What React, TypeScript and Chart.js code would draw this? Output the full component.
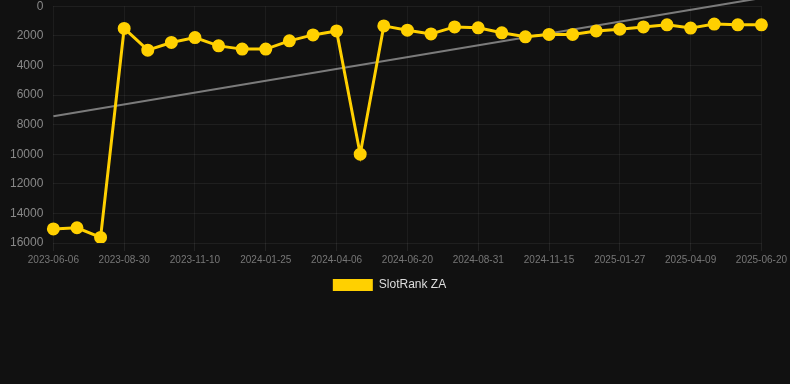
import React, { useEffect, useRef } from "react";
import { Chart, registerables } from "chart.js";

Chart.register(...registerables);

const labels: string[] = [
  "2023-06-06", "2023-07-04", "2023-08-02", "2023-08-30", "2023-09-23", "2023-10-17",
  "2023-11-10", "2023-12-05", "2023-12-30", "2024-01-25", "2024-02-18", "2024-03-13",
  "2024-04-06", "2024-05-01", "2024-05-26", "2024-06-20", "2024-07-14", "2024-08-07",
  "2024-08-31", "2024-09-25", "2024-10-20", "2024-11-15", "2024-12-09", "2025-01-03",
  "2025-01-27", "2025-02-20", "2025-03-16", "2025-04-09", "2025-05-03", "2025-05-27",
  "2025-06-20",
];

const rankZA: number[] = [
  15050, 14970, 15620, 1500, 2970, 2450, 2120, 2680, 2900, 2900, 2340, 1940,
  1670, 10000, 1330, 1620, 1870, 1400, 1460, 1800, 2070, 1910, 1910, 1670,
  1550, 1400, 1260, 1480, 1210, 1260, 1260,
];

const trendStart = 7430;
const trendEnd = -550;

const yTicksMin = 0;
const yTicksMax = 16000;
const yStep = 2000;

const legendShift = {
  id: "legendShift",
  afterLayout(c: any) {
    if (c.legend) {
      c.legend.left -= 5;
      c.legend.right -= 5;
    }
  },
};

export default function App() {
  const ref = useRef<HTMLCanvasElement | null>(null);

  useEffect(() => {
    if (!ref.current) return;
    const chart = new Chart(ref.current, {
      type: "line",
      data: {
        labels,
        datasets: [
          {
            label: "SlotRank ZA",
            data: rankZA,
            borderColor: "#ffd000",
            backgroundColor: "#ffd000",
            pointBackgroundColor: "#ffd000",
            pointBorderColor: "#ffd000",
            borderWidth: 3,
            pointRadius: 5,
            tension: 0,
          },
          {
            label: "trend",
            data: [
              { x: labels[0], y: trendStart },
              { x: labels[labels.length - 1], y: trendEnd },
            ] as any,
            borderColor: "rgba(150,150,150,0.8)",
            backgroundColor: "rgba(150,150,150,0.8)",
            borderWidth: 2,
            pointRadius: 0,
            tension: 0,
            clip: false as any,
          },
        ],
      },
      plugins: [legendShift],
      options: {
        animation: false,
        responsive: true,
        maintainAspectRatio: false,
        layout: { autoPadding: false, padding: { left: 0, right: 1, top: 0, bottom: 0 } },
        plugins: {
          legend: {
            position: "bottom",
            labels: {
              color: "#dddddd",
              font: { size: 12 },
              boxWidth: 40,
              boxHeight: 12,
              generateLabels: (c) =>
                Chart.defaults.plugins.legend.labels
                  .generateLabels(c)
                  .filter((it) => it.text === "SlotRank ZA")
                  .map((it) => ({ ...it, lineWidth: 0 })),
            },
          },
          tooltip: { enabled: false },
        },
        scales: {
          x: {
            type: "category",
            grid: { color: "rgba(255,255,255,0.05)", tickColor: "rgba(255,255,255,0.08)" },
            border: { display: false },
            ticks: {
              color: "#777777",
              font: { size: 10 },
              maxRotation: 0,
              autoSkip: true,
              maxTicksLimit: 11,
            },
          },
          y: {
            reverse: true,
            min: yTicksMin,
            max: yTicksMax,
            grid: { color: "rgba(255,255,255,0.06)", drawTicks: false },
            border: { display: false },
            ticks: {
              stepSize: yStep,
              color: "#888888",
              font: { size: 12 },
              padding: 10,
              callback: (v) => String(v),
            },
          },
        },
      },
    });
    return () => chart.destroy();
  }, []);

  return (
    <div
      style={{
        position: "fixed",
        left: 0,
        top: 0,
        width: 790,
        height: 384,
        background: "#111111",
        overflow: "hidden",
      }}
    >
      <div style={{ position: "relative", width: 790, height: 312, marginTop: -11 }}>
        <canvas ref={ref} />
      </div>
    </div>
  );
}
